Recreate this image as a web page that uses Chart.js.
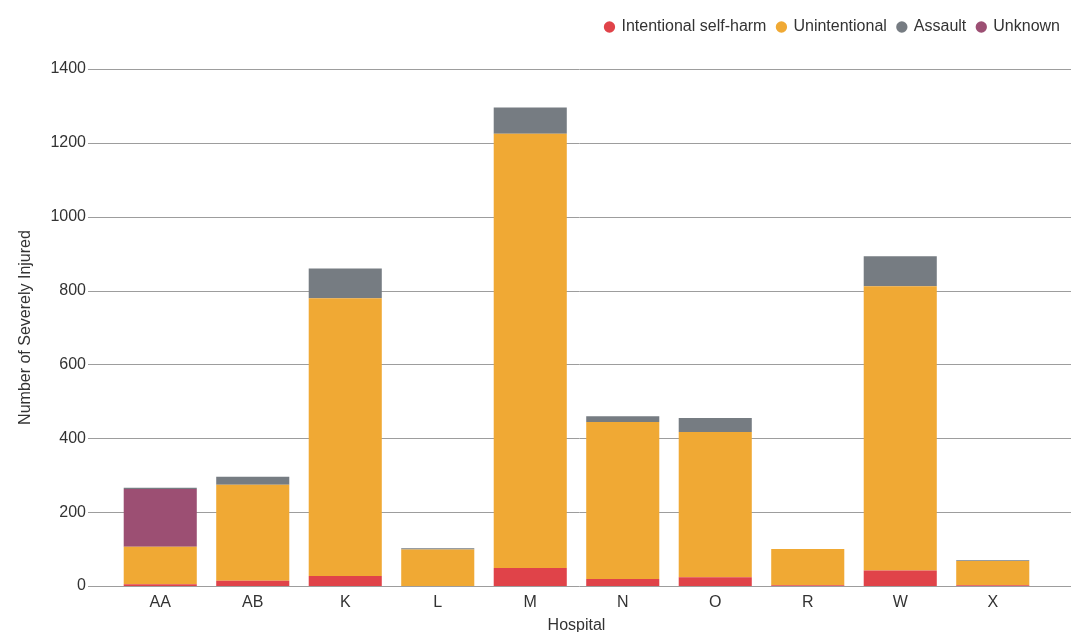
<!DOCTYPE html>
<html>
<head>
<meta charset="utf-8">
<title>Severely Injured by Hospital</title>
<script src="https://cdn.jsdelivr.net/npm/chart.js@4/dist/chart.umd.min.js"></script>
<style>
  html, body { margin: 0; padding: 0; background: #ffffff; }
  #wrap { width: 1071px; height: 632px; position: relative; }
</style>
</head>
<body>
<div id="wrap"><canvas id="chart" width="1071" height="632"></canvas></div>
<script>
// Severely injured patients per hospital, by intent
const hospitals = ['AA', 'AB', 'K', 'L', 'M', 'N', 'O', 'R', 'W', 'X'];
const selfHarm = [5, 14, 27, 0, 49, 19, 24, 2, 42, 2];
const unintentional = [101, 260, 752, 99, 1176, 425, 393, 98, 770, 66];
const assault = [3, 22, 81, 3, 71, 16, 38, 0, 81, 2];
const unknown = [157, 0, 0, 0, 0, 0, 0, 0, 0, 0];
const yTicks = [0, 200, 400, 600, 800, 1000, 1200, 1400];
const legendOrder = ['Intentional self-harm', 'Unintentional', 'Assault', 'Unknown'];

const FONT = '"Liberation Sans", Arial, Helvetica, sans-serif';
const TEXT = '#333333';
Chart.defaults.font.family = FONT;
Chart.defaults.font.size = 16;
Chart.defaults.color = TEXT;

// Horizontal grid lines that run past the plot area on both sides
const wideGrid = {
  id: 'wideGrid',
  beforeDatasetsDraw(chart) {
    const { ctx, chartArea } = chart;
    const y = chart.scales.y;
    ctx.save();
    ctx.strokeStyle = '#9d9d9d';
    ctx.lineWidth = 1;
    y.ticks.forEach(t => {
      const py = Math.round(y.getPixelForValue(t.value)) + 0.5;
      ctx.beginPath();
      ctx.moveTo(chartArea.left - 26, py);
      ctx.lineTo(chart.width, py);
      ctx.stroke();
    });
    ctx.restore();
  }
};

// Extra room between the legend row and the plot
const legendGap = {
  id: 'legendGap',
  beforeInit(chart) {
    const fit = chart.legend.fit;
    chart.legend.fit = function () {
      fit.call(this);
      this.height = 61;
    };
  }
};

const common = { stack: 'all', borderWidth: 0, barPercentage: 0.79, categoryPercentage: 1.0 };

new Chart(document.getElementById('chart'), {
  type: 'bar',
  data: {
    labels: hospitals,
    datasets: [
      { label: 'Intentional self-harm', data: selfHarm, backgroundColor: '#e04349', ...common },
      { label: 'Unintentional', data: unintentional, backgroundColor: '#f0a934', ...common },
      { label: 'Unknown', data: unknown, backgroundColor: '#9c4f73', ...common },
      { label: 'Assault', data: assault, backgroundColor: '#767c82', ...common }
    ]
  },
  options: {
    responsive: false,
    animation: false,
    layout: { padding: { top: 8, left: 0, right: 0, bottom: 0 } },
    plugins: {
      tooltip: { enabled: false },
      legend: {
        position: 'top',
        align: 'end',
        labels: {
          usePointStyle: true,
          pointStyle: 'circle',
          boxWidth: 8,
          boxHeight: 8,
          padding: 11,
          color: TEXT,
          font: { size: 16 },
          sort: (a, b) => legendOrder.indexOf(a.text) - legendOrder.indexOf(b.text)
        }
      }
    },
    scales: {
      x: {
        stacked: true,
        grid: { display: false, drawTicks: false },
        border: { display: false },
        ticks: { color: TEXT, font: { size: 16 }, padding: 7, maxRotation: 0 },
        title: { display: true, text: 'Hospital', color: TEXT, font: { size: 16 }, padding: { top: 0, bottom: -3 } },
        afterFit(s) { s.height = 46; }
      },
      y: {
        stacked: true,
        min: 0,
        max: 1400,
        grid: { display: false, drawTicks: false },
        border: { display: false },
        ticks: { color: TEXT, font: { size: 16 }, padding: 28, callback: v => String(v) },
        afterBuildTicks(s) { s.ticks = yTicks.map(v => ({ value: v })); },
        title: { display: true, text: 'Number of Severely Injured', color: TEXT, font: { size: 16 }, padding: { top: 16, bottom: 0 } },
        afterFit(s) { s.width = 114; }
      },
      yRight: {
        position: 'right',
        display: true,
        grid: { display: false, drawTicks: false },
        border: { display: false },
        ticks: { display: false },
        afterFit(s) { s.width = 32; }
      }
    }
  },
  plugins: [wideGrid, legendGap]
});
</script>
</body>
</html>
